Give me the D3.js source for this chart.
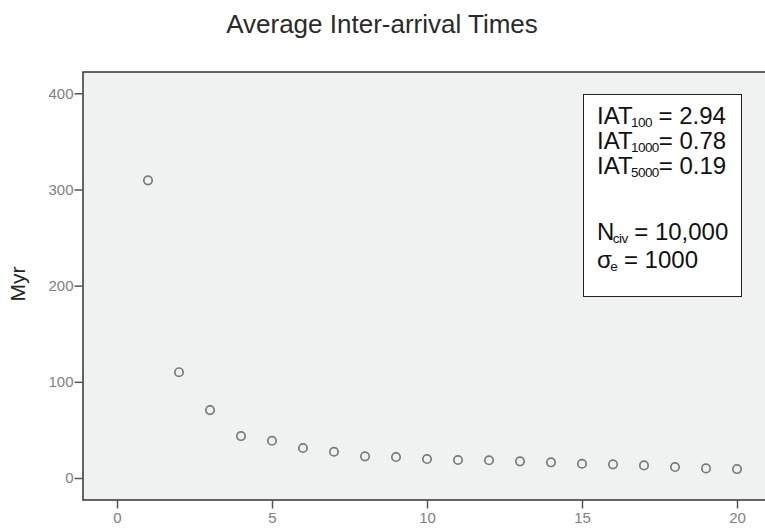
<!DOCTYPE html>
<html>
<head>
<meta charset="utf-8">
<script src="https://cdn.jsdelivr.net/npm/d3@7"></script>
<style>
  html, body { margin: 0; padding: 0; background: #ffffff; }
  svg { display: block; }
</style>
</head>
<body>
<svg id="chart" width="765" height="530"></svg>
<script>
// ---- data ----
const groups = [1, 2, 3, 4, 5, 6, 7, 8, 9, 10, 11, 12, 13, 14, 15, 16, 17, 18, 19, 20];
const avgIAT = [309.5, 110, 70.6, 43.6, 38.7, 31.2, 27.3, 22.5, 21.8, 19.7, 18.7, 18.4, 17.3, 16.3, 14.8, 14.2, 13.1, 11.4, 10.0, 9.3];
const xTicks = [0, 5, 10, 15, 20];
const yTicks = [0, 100, 200, 300, 400];
const titleText = "Average Inter-arrival Times";
const yLabel = "Myr";

const svg = d3.select("#chart");
const font = "'Liberation Sans', Arial, Helvetica, sans-serif";

const frame = { left: 83, top: 72, right: 775, bottom: 500 };

const x = d3.scaleLinear().domain([0, 20]).range([117, 737]);
const y = d3.scaleLinear().domain([0, 400]).range([478, 93.3]);

// title
svg.append("text")
  .attr("x", 382).attr("y", 33)
  .attr("text-anchor", "middle")
  .attr("font-family", font).attr("font-size", 26)
  .attr("fill", "#2a2a2a")
  .text(titleText);

// plot background + frame
svg.append("rect")
  .attr("x", frame.left).attr("y", frame.top)
  .attr("width", frame.right - frame.left).attr("height", frame.bottom - frame.top)
  .attr("fill", "#f0f1f1")
  .attr("stroke", "#333").attr("stroke-width", 1.5);

// axes
const yAxis = svg.append("g")
  .attr("transform", `translate(${frame.left - 0.5},0)`)
  .call(d3.axisLeft(y).tickValues(yTicks).tickSize(8).tickPadding(1).tickFormat(d3.format("d")));
const xAxis = svg.append("g")
  .attr("transform", `translate(0,${frame.bottom + 0.5})`)
  .call(d3.axisBottom(x).tickValues(xTicks).tickSize(8).tickPadding(4).tickFormat(d3.format("d")));

[yAxis, xAxis].forEach(g => {
  g.select(".domain").remove();
  g.selectAll(".tick line").attr("stroke", "#555").attr("stroke-width", 1.5);
  g.selectAll(".tick text")
    .attr("fill", "#808080")
    .attr("font-family", font)
    .attr("font-size", 15);
});

// y label
svg.append("text")
  .attr("transform", "translate(25,284) rotate(-90)")
  .attr("text-anchor", "middle")
  .attr("font-family", font).attr("font-size", 21)
  .attr("fill", "#222")
  .text(yLabel);

// points
svg.append("g").selectAll("circle")
  .data(groups.map((g, i) => ({ g, v: avgIAT[i] })))
  .join("circle")
  .attr("cx", d => x(d.g))
  .attr("cy", d => y(d.v))
  .attr("r", 4.2)
  .attr("fill", "none")
  .attr("stroke", "#7a7a7a")
  .attr("stroke-width", 1.7);

// annotation box
const box = { x: 583, y: 94, w: 158, h: 202 };
svg.append("rect")
  .attr("x", box.x + 0.5).attr("y", box.y + 0.5)
  .attr("width", box.w).attr("height", box.h)
  .attr("fill", "#ffffff").attr("stroke", "#222").attr("stroke-width", 1);

const lines = [
  { base: "IAT", sub: "100", rest: " = 2.94", yy: 124 },
  { base: "IAT", sub: "1000", rest: "= 0.78", yy: 149 },
  { base: "IAT", sub: "5000", rest: "= 0.19", yy: 174 },
  { base: "N", sub: "civ", rest: " = 10,000", yy: 240 },
  { base: "\u03C3", sub: "e", rest: " = 1000", yy: 268 }
];
lines.forEach(l => {
  const t = svg.append("text")
    .attr("x", 597).attr("y", l.yy)
    .attr("font-family", font).attr("font-size", 24)
    .attr("fill", "#111");
  t.append("tspan").text(l.base);
  t.append("tspan").attr("font-size", 13.5).attr("dy", 2.5).attr("dx", -1.5).attr("letter-spacing", -0.6).text(l.sub);
  t.append("tspan").attr("dy", -2.5).text(l.rest);
});
</script>
</body>
</html>
